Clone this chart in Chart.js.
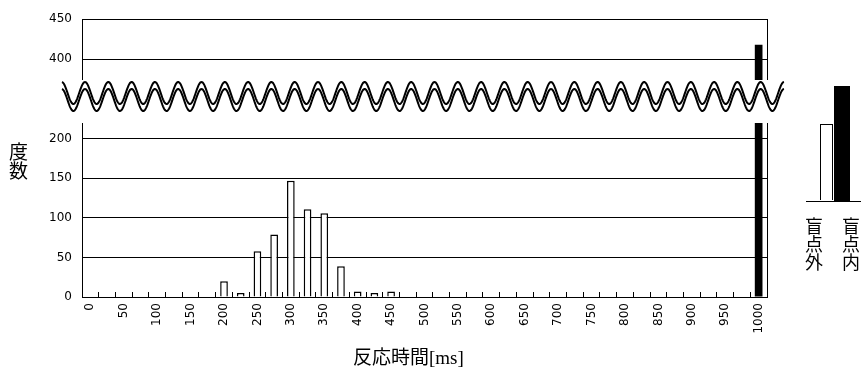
<!DOCTYPE html>
<html>
<head>
<meta charset="utf-8">
<script src="https://cdn.jsdelivr.net/npm/chart.js@4.4.1/dist/chart.umd.min.js"></script>
<style>
  body { margin: 0; background: #fff; }
  #wrap { position: relative; width: 861px; height: 369px; background: #fff; overflow: hidden; }
  #wrap canvas { position: absolute; left: 0; }
  .jp { position: absolute; font-family: "Liberation Serif", "Noto Sans CJK JP", serif; color: #000; }
  .vert { writing-mode: vertical-rl; line-height: 1; }
</style>
</head>
<body>
<div id="wrap">
  <canvas id="topChart" style="top:0" width="861" height="80"></canvas>
  <canvas id="bottomChart" style="top:110px" width="861" height="259"></canvas>
  <canvas id="breakMark" style="top:0" width="861" height="130"></canvas>

  <div class="jp vert" style="left:7px; top:142px; font-size:19px;">度数</div>
  <div class="jp" style="left:353px; top:342px; font-size:19px;">反応時間[ms]</div>

  <!-- legend -->
  <div style="position:absolute; left:806px; top:201px; width:55px; height:1px; background:#000;"></div>
  <div style="position:absolute; left:820px; top:124px; width:11px; height:75px; border:1.5px solid #000; border-bottom:none; background:#fff;"></div>
  <div style="position:absolute; left:834px; top:86px; width:16px; height:115px; background:#000;"></div>
  <div class="jp vert" style="left:803px; top:217px; font-size:18px;">盲点外</div>
  <div class="jp vert" style="left:840px; top:217px; font-size:18px;">盲点内</div>
</div>

<script>
// 反応時間 (ms) のカテゴリ
const categories = [
  "0", "25", "50", "75", "100", "125", "150", "175", "200", "225",
  "250", "275", "300", "325", "350", "375", "400", "425", "450", "475",
  "500", "525", "550", "575", "600", "625", "650", "675", "700", "725",
  "750", "775", "800", "825", "850", "875", "900", "925", "950", "975",
  "1000"
];

// 盲点外 (white bars)
const outsideValues = [
  0, 0, 0, 0, 0, 0, 0, 0, 20, 5,
  58, 79, 147, 111, 106, 39, 7, 5, 7, 0,
  0, 0, 0, 0, 0, 0, 0, 0, 0, 0,
  0, 0, 0, 0, 0, 0, 0, 0, 0, 0,
  0
];

// 盲点内 (black bars)
const insideValues = [
  0, 0, 0, 0, 0, 0, 0, 0, 0, 0,
  0, 0, 0, 0, 0, 0, 0, 0, 0, 0,
  0, 0, 0, 0, 0, 0, 0, 0, 0, 0,
  0, 0, 0, 0, 0, 0, 0, 0, 0, 0,
  418
];

const yTicksTop = [400, 450];
const yTicksBottom = [0, 50, 100, 150, 200];
const topRange = [374, 450];
const bottomRange = [0, 220];

const tickFont = { family: "DejaVu Sans", size: 12 };

// right-hand frame line of each panel
const frameLine = {
    id: "frameLine",
    afterDraw(chart) {
        const a = chart.chartArea;
        const ctx = chart.ctx;
        ctx.save();
        ctx.strokeStyle = "#000";
        ctx.lineWidth = 1;
        ctx.beginPath();
        ctx.moveTo(Math.round(a.right) + 0.5, a.top);
        ctx.lineTo(Math.round(a.right) + 0.5, a.bottom);
        ctx.stroke();
        ctx.restore();
    }
};

function yScale(range, ticks) {
    return {
        min: range[0],
        max: range[1],
        afterBuildTicks: s => { s.ticks = ticks.map(v => ({ value: v })); },
        afterFit: s => {
            s.width = 82;
            // keep the plot area where the layout padding puts it
            s.paddingTop = 0;
            s.paddingBottom = 0;
        },
        grid: { color: "#000", lineWidth: 1, drawTicks: false },
        border: { display: true, color: "#000", width: 1 },
        ticks: { color: "#000", font: tickFont, padding: 10 }
    };
}

// ===============================
// TOP PANEL (broken axis, 374-450)
// ===============================
new Chart(document.getElementById("topChart"), {
    type: "bar",
    data: {
        labels: categories,
        datasets: [
            {
                label: "盲点内",
                data: insideValues,
                backgroundColor: "#000",
                borderWidth: 0,
                categoryPercentage: 1,
                barPercentage: 0.46,
                clip: 0
            }
        ]
    },
    options: {
        responsive: false,
        animation: false,
        layout: { padding: { top: 19, right: 94, left: 0, bottom: 0 } },
        plugins: { legend: { display: false }, tooltip: { enabled: false } },
        scales: {
            x: { display: false, stacked: true },
            y: yScale(topRange, yTicksTop)
        }
    },
    plugins: [frameLine]
});

// ===============================
// BOTTOM PANEL (0-220)
// ===============================
new Chart(document.getElementById("bottomChart"), {
    type: "bar",
    data: {
        labels: categories,
        datasets: [
            {
                label: "盲点外",
                data: outsideValues,
                backgroundColor: "#fff",
                borderColor: "#000",
                borderWidth: 1.5,
                categoryPercentage: 1,
                barPercentage: 0.46,
                clip: 0
            },
            {
                label: "盲点内",
                data: insideValues,
                backgroundColor: "#000",
                borderWidth: 0,
                categoryPercentage: 1,
                barPercentage: 0.46,
                clip: 0
            }
        ]
    },
    options: {
        responsive: false,
        animation: false,
        layout: { padding: { top: 13, right: 94, left: 0, bottom: 0 } },
        plugins: { legend: { display: false }, tooltip: { enabled: false } },
        scales: {
            x: {
                stacked: true,
                afterFit: s => { s.height = 72; },
                grid: {
                    color: "#000",
                    drawOnChartArea: false,
                    drawTicks: true,
                    tickLength: -5
                },
                border: { display: true, color: "#000", width: 1 },
                ticks: {
                    color: "#000",
                    font: tickFont,
                    autoSkip: false,
                    minRotation: 90,
                    maxRotation: 90,
                    padding: 11,
                    callback: (v, i) => (i % 2 === 0 ? categories[i] : "")
                }
            },
            y: yScale(bottomRange, yTicksBottom)
        }
    },
    plugins: [frameLine]
});

// ===============================
// axis break (double wavy line)
// ===============================
(function drawBreak() {
    const ctx = document.getElementById("breakMark").getContext("2d");
    const x0 = 62, x1 = 784, period = 23.3, phase = 85, amp = 11;
    const wave = (x, c) => c - amp * Math.cos(2 * Math.PI * (x - phase) / period);

    // white band hiding the axes between the panels
    ctx.fillStyle = "#fff";
    ctx.beginPath();
    for (let x = x0; x <= x1; x += 0.5) ctx.lineTo(x, wave(x, 93));
    for (let x = x1; x >= x0; x -= 0.5) ctx.lineTo(x, wave(x, 100));
    ctx.closePath();
    ctx.fill();

    ctx.strokeStyle = "#000";
    ctx.lineWidth = 2;
    [93, 100].forEach(c => {
        ctx.beginPath();
        for (let x = x0; x <= x1; x += 0.5) ctx.lineTo(x, wave(x, c));
        ctx.stroke();
    });
})();
</script>
</body>
</html>
